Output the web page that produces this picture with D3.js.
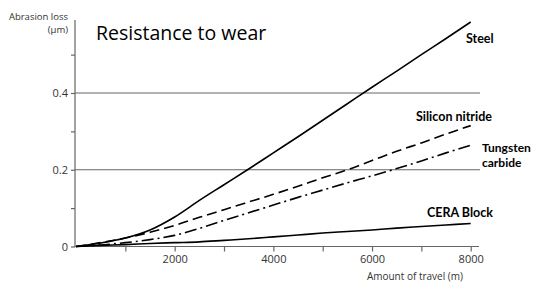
<!DOCTYPE html>
<html><head><meta charset="utf-8">
<script src="https://cdn.jsdelivr.net/npm/d3@7"></script>
<style>body{margin:0;background:#fff;}svg{display:block;font-family:"Open Sans",sans-serif;}</style>
</head><body>
<svg id="c" width="539" height="284"></svg>
<script>
const distances = [0,500,1000,1500,2000,2500,3000,3500,4000,4500,5000,5500,6000,6500,7000,7500,8000];
const steel = [0,0.009,0.022,0.043,0.077,0.12,0.161,0.202,0.244,0.286,0.329,0.372,0.415,0.457,0.5,0.542,0.585];
const siliconNitride = [0,0.01,0.022,0.037,0.055,0.076,0.096,0.116,0.136,0.157,0.179,0.2,0.224,0.248,0.27,0.293,0.315];
const tungstenCarbide = [0,0.004,0.01,0.018,0.029,0.047,0.068,0.088,0.108,0.128,0.147,0.166,0.184,0.203,0.223,0.244,0.264];
const ceraBlock = [0,0.003,0.005,0.008,0.01,0.012,0.016,0.02,0.025,0.03,0.035,0.039,0.043,0.048,0.052,0.056,0.06];
const xTicks = [2000,4000,6000,8000];
const xMinorTicks = [1000,3000,5000,7000];
const yTicks = [0,0.2,0.4];
const yMinorTicks = [0.1,0.3,0.5];
const gridValues = [0.2,0.4];

const svg = d3.select("#c");
const x = d3.scaleLinear().domain([0,8000]).range([76,470.7]);
const y = d3.scaleLinear().domain([0,0.4]).range([246.5,93]);
const axisCol = "#666";

// gridlines
svg.selectAll("line.grid").data(gridValues).join("line")
  .attr("x1",75).attr("x2",480).attr("y1",d=>y(d)).attr("y2",d=>y(d))
  .attr("stroke",axisCol).attr("stroke-width",1);

// x axis
const xAxis = svg.append("g").attr("transform",`translate(0,${y(0)})`)
  .call(d3.axisBottom(x).tickValues(xTicks).tickSize(5).tickPadding(4).tickFormat(d3.format("d")));
xAxis.select(".domain").remove();
xAxis.append("line").attr("x1",75).attr("x2",479).attr("stroke",axisCol).attr("stroke-width",1.2);
const xMin = svg.append("g").attr("transform",`translate(0,${y(0)})`)
  .call(d3.axisBottom(x).tickValues(xMinorTicks).tickSize(5).tickFormat(""));
xMin.select(".domain").remove();

// y axis
const yAxis = svg.append("g").attr("transform",`translate(75,0)`)
  .call(d3.axisLeft(y).tickValues(yTicks).tickSize(4).tickPadding(3).tickFormat(d=>d===0?"0":d3.format(".1f")(d)));
yAxis.select(".domain").remove();
yAxis.append("line").attr("x1",0).attr("x2",0).attr("y1",20).attr("y2",y(0)+0.5).attr("stroke",axisCol).attr("stroke-width",1.2);
const yMin = svg.append("g").attr("transform",`translate(75,0)`)
  .call(d3.axisLeft(y).tickValues(yMinorTicks).tickSize(4).tickFormat(""));
yMin.select(".domain").remove();

svg.selectAll(".tick line").attr("stroke",axisCol).attr("stroke-width",1.2);
svg.selectAll(".tick text").attr("fill","#333").style("font-size","11px").style("font-family","'Open Sans',sans-serif");

// data lines
const series = [
  {name:"steel", vals:steel, dash:null},
  {name:"si", vals:siliconNitride, dash:"10,5"},
  {name:"tc", vals:tungstenCarbide, dash:"12,4,2,4"},
  {name:"cera", vals:ceraBlock, dash:null}
];
const line = d3.line().x((d,i)=>x(distances[i])).y(d=>y(d)).curve(d3.curveMonotoneX);
svg.selectAll("path.s").data(series).join("path")
  .attr("d",d=>line(d.vals)).attr("fill","none").attr("stroke","#000")
  .attr("stroke-width",1.6).attr("stroke-dasharray",d=>d.dash);

// labels
const lab = (t,xx,yy,opts={})=>svg.append("text").text(t).attr("x",xx).attr("y",yy)
  .attr("text-anchor",opts.anchor||"start").attr("fill",opts.fill||"#000")
  .style("font-size",(opts.size||12)+"px").style("font-weight",opts.weight||"normal")
  .style("font-family",opts.family||"'Open Sans',sans-serif");
const sf = "Lato,'Open Sans',sans-serif";
lab("Steel",466,43,{weight:"bold",size:12.5,family:sf});
lab("Silicon nitride",416,121,{weight:"bold",size:12.5,family:sf});
lab("Tungsten",482,152,{weight:"bold",size:12,family:sf});
lab("carbide",482,166.6,{weight:"bold",size:12,family:sf});
lab("CERA Block",427,217,{weight:"bold",size:12.5,family:sf});
lab("Resistance to wear",96,40,{size:19.5});
lab("Abrasion loss",68,20,{anchor:"end",size:9.5,fill:"#333"});
lab("(µm)",68,33,{anchor:"end",size:9.5,fill:"#333"});
lab("Amount of travel (m)",463,280,{anchor:"end",size:10,fill:"#333"});
</script>
</body></html>
